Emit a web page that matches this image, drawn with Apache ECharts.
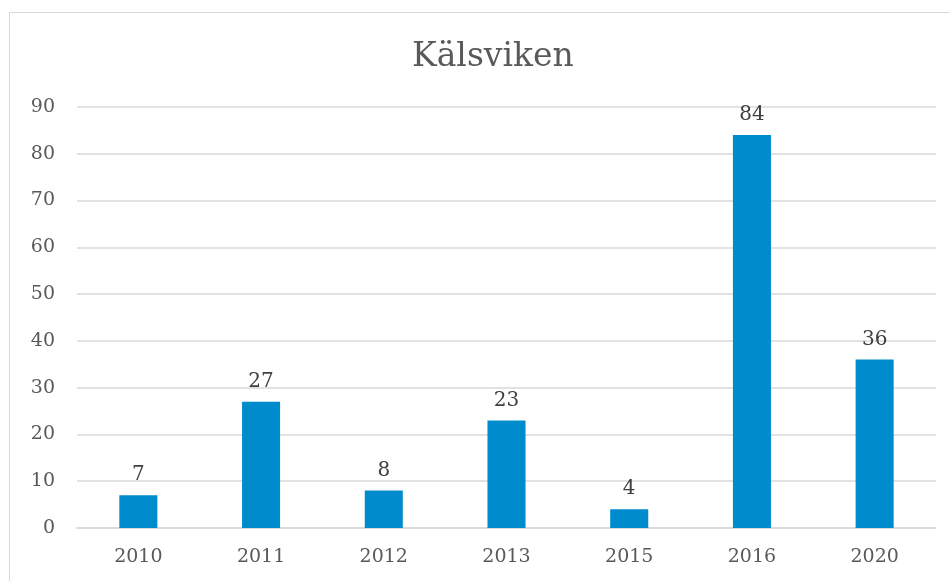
<!DOCTYPE html>
<html>
<head>
<meta charset="utf-8">
<script src="https://cdn.jsdelivr.net/npm/echarts@6/dist/echarts.min.js"></script>
<style>
  html, body { margin: 0; padding: 0; background: #fff; }
  #chart { width: 950px; height: 581px; }
  .frame {
    position: absolute;
    left: 9px;
    top: 12px;
    width: 960px;
    height: 600px;
    border: 1px solid #d9d9d9;
    box-sizing: border-box;
    pointer-events: none;
  }
</style>
</head>
<body>
<div class="frame"></div>
<div id="chart"></div>
<script>
const years = ['2010', '2011', '2012', '2013', '2015', '2016', '2020']
const counts = [7, 27, 8, 23, 4, 84, 36]
const yTicks = { min: 0, max: 90, interval: 10 }

const serif = '"DejaVu Serif", "Liberation Serif", serif'

const chart = echarts.init(document.getElementById('chart'))

chart.setOption({
  animation: false,
  title: {
    text: 'Kälsviken',
    left: 407,
    top: 36,
    textStyle: {
      color: '#595959',
      fontFamily: serif,
      fontWeight: 'normal',
      fontSize: 33,
    },
  },
  grid: {
    left: 77,
    right: 14,
    top: 107,
    bottom: 53,
  },
  xAxis: {
    type: 'category',
    data: years,
    axisLine: { lineStyle: { color: '#d9d9d9', width: 1.5 } },
    axisTick: { show: false },
    axisLabel: {
      color: '#595959',
      fontFamily: serif,
      fontSize: 19,
      margin: 20,
    },
  },
  yAxis: {
    type: 'value',
    min: yTicks.min,
    max: yTicks.max,
    interval: yTicks.interval,
    axisLine: { show: false },
    axisTick: { show: false },
    splitLine: { lineStyle: { color: '#d9d9d9', width: 1.5 } },
    axisLabel: {
      color: '#595959',
      fontFamily: serif,
      fontSize: 19,
      margin: 22,
    },
  },
  series: [
    {
      type: 'bar',
      data: counts,
      barWidth: '31%',
      itemStyle: { color: '#008ccc' },
      label: {
        show: true,
        position: 'top',
        distance: 10,
        color: '#404040',
        fontFamily: serif,
        fontSize: 20,
      },
    },
  ],
})
</script>
</body>
</html>
